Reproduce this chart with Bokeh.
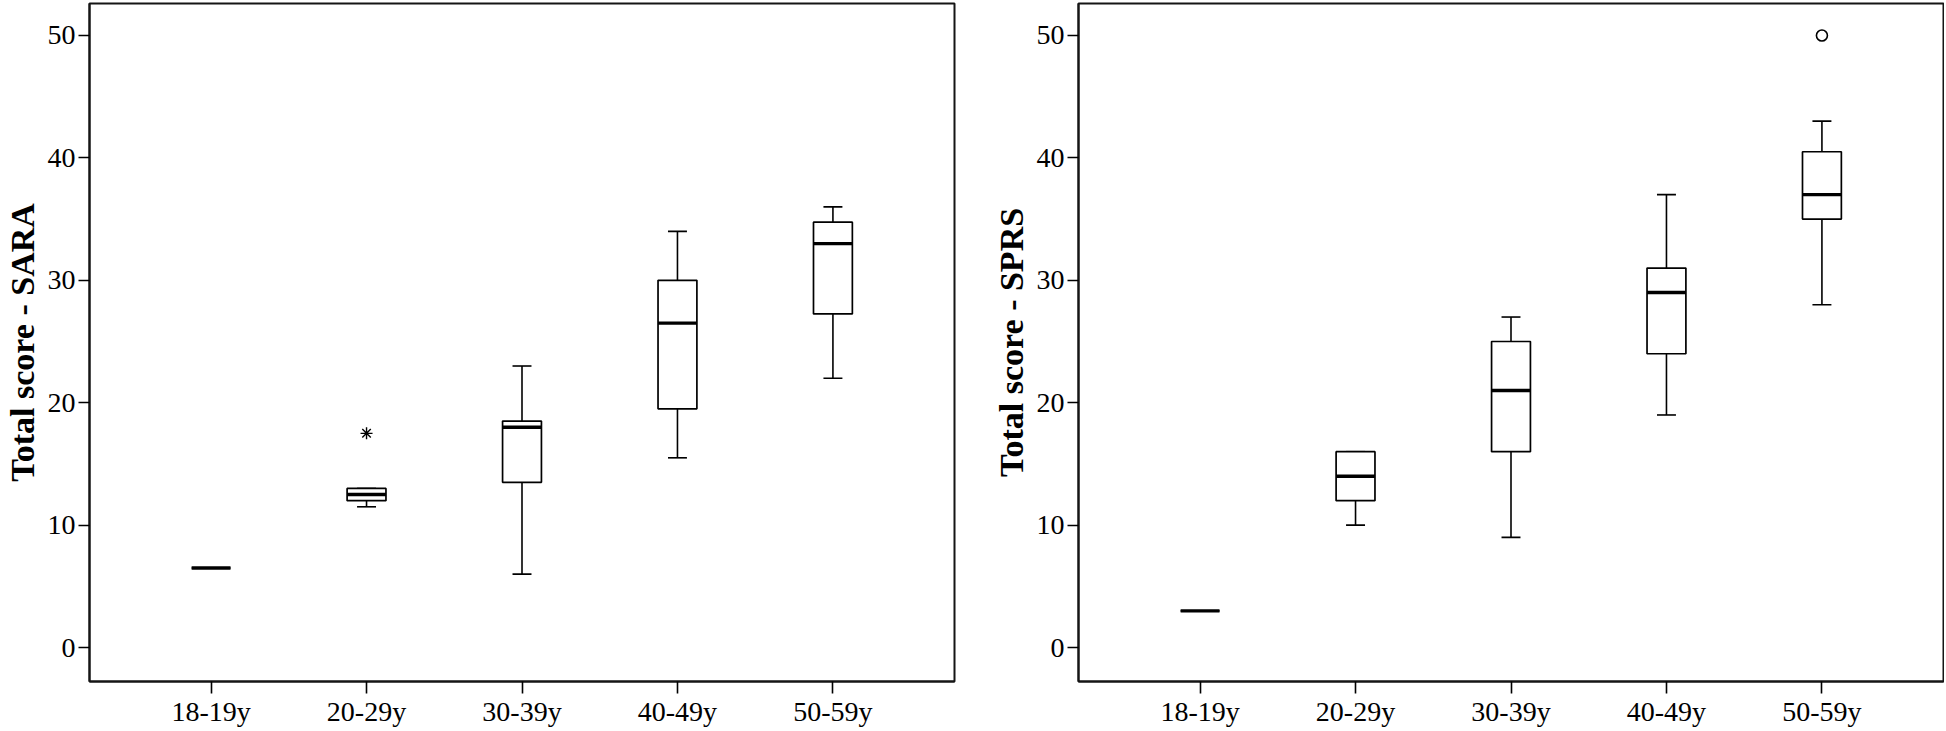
from bokeh.plotting import figure
from bokeh.layouts import row
from bokeh.models import Range1d, FixedTicker, ColumnDataSource
from bokeh.embed import file_html
from bokeh.resources import INLINE

# ---- data ----
categories = ["18-19y", "20-29y", "30-39y", "40-49y", "50-59y"]
y_ticks = [0, 10, 20, 30, 40, 50]

sara_low = [6.5, 11.5, 6.0, 15.5, 22.0]
sara_q1 = [6.5, 12.0, 13.5, 19.5, 27.25]
sara_med = [6.5, 12.5, 18.0, 26.5, 33.0]
sara_q3 = [6.5, 13.0, 18.5, 30.0, 34.75]
sara_high = [6.5, 13.0, 23.0, 34.0, 36.0]
sara_out_cat = ["20-29y"]
sara_out_val = [17.5]

sprs_low = [3.0, 10.0, 9.0, 19.0, 28.0]
sprs_q1 = [3.0, 12.0, 16.0, 24.0, 35.0]
sprs_med = [3.0, 14.0, 21.0, 29.0, 37.0]
sprs_q3 = [3.0, 16.0, 25.0, 31.0, 40.5]
sprs_high = [3.0, 16.0, 27.0, 37.0, 43.0]
sprs_out_cat = ["50-59y"]
sprs_out_val = [50.0]

FONT = "Liberation Serif"
BOX_W = 0.25
CAP_W = 0.122


def make(title, low, q1, med, q3, high, out_cat, out_val, marker,
         frame_w, border_left, border_right):
    xs = list(range(len(categories)))
    src = ColumnDataSource(dict(
        x=xs, low=low, q1=q1, med=med, q3=q3, high=high,
        cl=[x - CAP_W / 2 for x in xs], cr=[x + CAP_W / 2 for x in xs],
        ml=[x - BOX_W / 2 for x in xs], mr=[x + BOX_W / 2 for x in xs],
    ))
    p = figure(width=border_left + frame_w + border_right, height=729,
               x_range=Range1d(-0.782, 4.782), y_range=Range1d(-2.77, 52.61),
               output_backend="svg", toolbar_location=None,
               min_border_left=border_left, min_border_right=border_right,
               min_border_top=3, min_border_bottom=47)
    p.xgrid.visible = False
    p.ygrid.visible = False
    p.outline_line_color = "#151515"
    p.outline_line_width = 2
    p.background_fill_color = "white"
    p.border_fill_color = "white"

    # whiskers
    p.segment(x0="x", y0="q3", x1="x", y1="high", source=src, line_color="black", line_width=1.6)
    p.segment(x0="x", y0="q1", x1="x", y1="low", source=src, line_color="black", line_width=1.6)
    p.segment(x0="cl", y0="high", x1="cr", y1="high", source=src, line_color="black", line_width=1.6)
    p.segment(x0="cl", y0="low", x1="cr", y1="low", source=src, line_color="black", line_width=1.6)
    # boxes
    p.vbar(x="x", width=BOX_W, bottom="q1", top="q3", source=src,
           fill_color="white", line_color="black", line_width=1.7)
    # medians
    p.segment(x0="ml", y0="med", x1="mr", y1="med", source=src, line_color="black", line_width=3.4)

    # outliers
    ox = [categories.index(c) for c in out_cat]
    if marker == "asterisk":
        p.scatter(ox, out_val, marker="asterisk", size=12, line_color="black", line_width=1.4)
    else:
        p.scatter(ox, out_val, marker="circle", size=11, fill_color="white",
                  line_color="black", line_width=1.6)

    # axes
    p.xaxis.ticker = FixedTicker(ticks=xs)
    p.xaxis.major_label_overrides = {i: c for i, c in enumerate(categories)}
    p.yaxis.ticker = FixedTicker(ticks=y_ticks)
    for ax in (p.xaxis[0], p.yaxis[0]):
        ax.axis_line_color = "#151515"
        ax.axis_line_width = 2
        ax.major_tick_line_color = "black"
        ax.major_tick_line_width = 1.6
        ax.major_tick_in = 0
        ax.minor_tick_line_color = None
        ax.major_label_text_font = FONT
        ax.major_label_text_color = "black"
    p.xaxis.major_label_text_font_size = "28px"
    p.yaxis.major_label_text_font_size = "28px"
    p.xaxis.major_tick_out = 12
    p.yaxis.major_tick_out = 11
    p.xaxis.major_label_standoff = 2
    p.yaxis.major_label_standoff = 3
    p.yaxis.axis_label = title
    p.yaxis.axis_label_text_font = FONT
    p.yaxis.axis_label_text_font_style = "bold"
    p.yaxis.axis_label_text_font_size = "34px"
    p.yaxis.axis_label_text_color = "black"
    p.yaxis.axis_label_standoff = 4
    return p


p1 = make("Total score - SARA", sara_low, sara_q1, sara_med, sara_q3, sara_high,
          sara_out_cat, sara_out_val, "asterisk", 868, 86, 35)
p2 = make("Total score - SPRS", sprs_low, sprs_q1, sprs_med, sprs_q3, sprs_high,
          sprs_out_cat, sprs_out_val, "circle", 868, 86, 1)

layout = row(p1, p2)
open("out.html", "w").write(file_html(layout, INLINE))
